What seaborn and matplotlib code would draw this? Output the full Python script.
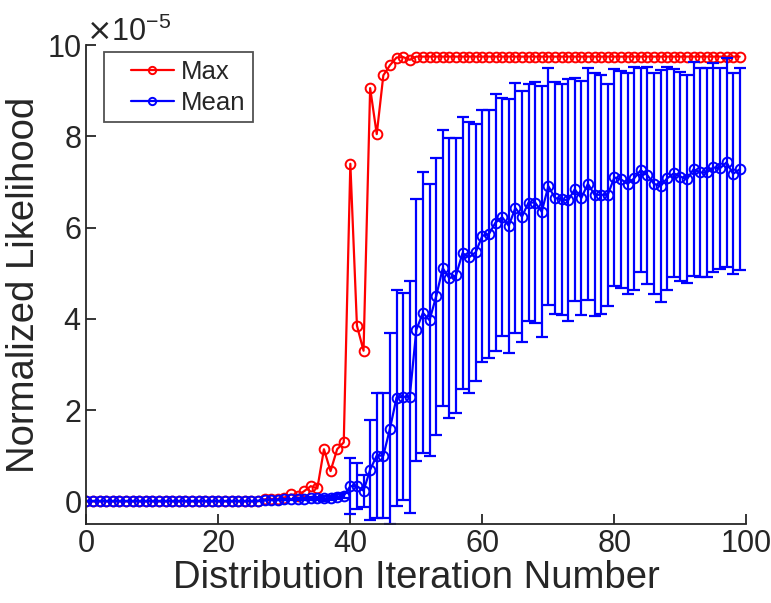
import numpy as np
import pandas as pd
import matplotlib
matplotlib.use("Agg")
import matplotlib.pyplot as plt
from matplotlib.legend_handler import HandlerLine2D
import seaborn as sns

# iteration numbers 0..99
iterations = list(range(100))

# max normalized likelihood (units of 1e-5)
max_vals = [0.0] * 27 + [
    0.04, 0.05, 0.05, 0.08, 0.15, 0.12, 0.22, 0.33, 0.28, 1.14,
    0.66, 1.14, 1.29, 7.40, 3.85, 3.30, 9.06, 8.05, 9.34, 9.56,
    9.73, 9.74, 9.68,
] + [9.75] * 50

# mean normalized likelihood (units of 1e-5)
mean_vals = [0.0] * 26 + [
    0.01, 0.02, 0.03, 0.03, 0.04, 0.04, 0.04, 0.05, 0.06, 0.06,
    0.06, 0.07, 0.10, 0.12, 0.33, 0.33, 0.23, 0.69, 1.00, 1.00,
    1.59, 2.27, 2.29, 2.29, 3.76, 4.13, 3.97, 4.49, 5.11, 4.89,
    4.95, 5.44, 5.35, 5.46, 5.82, 5.86, 6.11, 6.23, 6.04, 6.43,
    6.24, 6.55, 6.55, 6.35, 6.91, 6.65, 6.62, 6.60, 6.84, 6.65,
    6.96, 6.72, 6.72, 6.72, 7.10, 7.06, 6.96, 7.08, 7.26, 7.15,
    6.96, 6.91, 7.08, 7.19, 7.12, 7.06, 7.28, 7.21, 7.21, 7.32,
    7.30, 7.43, 7.18, 7.28,
]

# standard deviation of the mean (units of 1e-5)
std_vals = [0.0] * 30 + [
    0.01, 0.01, 0.02, 0.03, 0.04, 0.04, 0.05, 0.05, 0.06, 0.06,
    0.61, 0.50, 0.35, 1.10, 1.37, 1.37, 2.10, 2.37, 2.27, 2.55,
    2.87, 3.08, 2.98, 3.03, 3.03, 3.07, 3.01, 2.99, 2.97, 2.82,
    2.77, 2.73, 2.82, 2.61, 2.78, 2.75, 2.75, 2.60, 2.65, 2.75,
    2.60, 2.55, 2.54, 2.65, 2.45, 2.57, 2.55, 2.66, 2.62, 2.43,
    2.37, 2.38, 2.42, 2.45, 2.23, 2.38, 2.42, 2.55, 2.45, 2.28,
    2.30, 2.28, 2.35, 2.30, 2.30, 2.30, 2.20, 2.30, 2.20, 2.21,
]

SCALE = 1e-5

df = pd.DataFrame({
    "iter": iterations,
    "max": np.array(max_vals) * SCALE,
    "mean": np.array(mean_vals) * SCALE,
    "std": np.array(std_vals) * SCALE,
})

sns.set_style("white")
plt.rcParams["font.family"] = ["Liberation Sans", "DejaVu Sans"]
plt.rcParams["axes.formatter.use_mathtext"] = True

fig = plt.figure(figsize=(7.71, 6.03), dpi=100)
ax = fig.add_axes([0.112, 0.131, 0.856, 0.794])

sns.lineplot(data=df, x="iter", y="max", ax=ax, color="red", lw=1.6,
             marker="o", ms=7, mfc="none", mec="red", mew=1.4, label="Max")
ax.errorbar(df["iter"], df["mean"], yerr=df["std"], fmt="none",
            ecolor="blue", elinewidth=1.6, capsize=4.5, capthick=1.6)
sns.lineplot(data=df, x="iter", y="mean", ax=ax, color="blue", lw=1.6,
             marker="o", ms=7, mfc="none", mec="blue", mew=1.4, label="Mean")

ax.set_xlim(0, 100)
ax.set_ylim(-0.5 * SCALE, 10 * SCALE)
ax.set_xticks([0, 20, 40, 60, 80, 100])
ax.set_yticks(np.arange(0, 11, 2) * SCALE)
ax.ticklabel_format(axis="y", style="sci", scilimits=(-5, -5))
ax.yaxis.get_offset_text().set_fontsize(22)

ax.set_xlabel("Distribution Iteration Number", fontsize=27.5, labelpad=1)
ax.set_ylabel("Normalized Likelihood", fontsize=27.5, labelpad=3)
ax.tick_params(axis="both", direction="in", length=7, width=1.3,
               bottom=True, left=True, labelsize=22,
               colors="#262626", labelcolor="#262626")

for side in ["top", "right"]:
    ax.spines[side].set_visible(False)
for side in ["left", "bottom"]:
    ax.spines[side].set_color("#262626")
    ax.spines[side].set_linewidth(1.3)

handler = HandlerLine2D(xpad=0.76)
leg = ax.legend(loc="upper left", bbox_to_anchor=(0.026, 0.985), fontsize=18.5,
                frameon=True, fancybox=False, edgecolor="#262626",
                handlelength=2.45, borderpad=0.3, labelspacing=0.25,
                handletextpad=0.25, markerscale=0.75, borderaxespad=0,
                handler_map={plt.Line2D: handler})
leg.get_frame().set_linewidth(1.3)

fig.savefig("out.png", dpi=100)
